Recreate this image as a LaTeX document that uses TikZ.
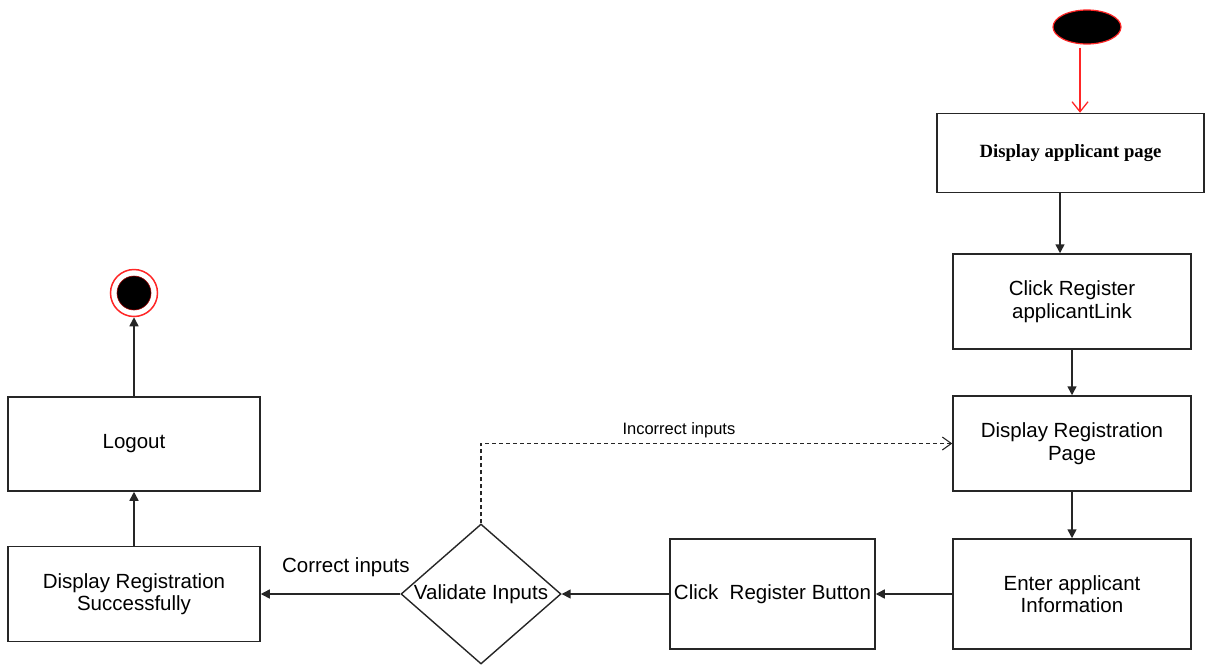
\documentclass[tikz,border=0pt]{standalone}
\usepackage{fontspec}
\setmainfont{Liberation Sans}
\newfontfamily\serifbold{Liberation Serif}
\usetikzlibrary{arrows.meta,shapes.geometric}
\begin{document}
\begin{tikzpicture}[x=1pt,y=-1pt,
  font=\fontsize{20.5}{22.5}\selectfont,
  actbox/.style={draw=black!85, line width=1.5pt, fill=white, align=center, inner sep=0pt},
  flow/.style={draw=black!85, line width=1.5pt, -{Triangle[length=9pt,width=9pt]}},
  redflow/.style={draw=red!85, line width=1.3pt, -{Straight Barb[length=10pt,width=16pt,line width=1.3pt]}},
  altflow/.style={draw=black!85, line width=1.1pt, dash pattern=on 4pt off 3pt, -{Straight Barb[length=9pt,width=13pt,line width=1.1pt]}}]
\useasboundingbox (0,0) rectangle (1205,665);

% initial and final states
\node[ellipse, draw=red!85, fill=black, line width=1.2pt, minimum width=68pt, minimum height=34pt, inner sep=0pt] (start) at (1087,27) {};
\node[circle, draw=red!85, fill=white, line width=1.5pt, minimum size=47pt, inner sep=0pt] (stop) at (134,293) {};
\node[circle, draw=red!60!black, fill=black, line width=0.6pt, minimum size=34pt, inner sep=0pt] (stopdot) at (134,293) {};

% actions
\node[actbox, minimum width=267pt, minimum height=79pt] (page) at (1070.5,153) {\serifbold\fontsize{18.7}{22}\selectfont\bfseries Display applicant page};
\node[actbox, minimum width=238pt, minimum height=95pt] (link) at (1072,301.5) {Click Register\\applicantLink};
\node[actbox, minimum width=238pt, minimum height=95pt] (regpage) at (1072,443.5) {Display Registration\\Page};
\node[actbox, minimum width=238pt, minimum height=110pt] (info) at (1072,594) {Enter applicant\\Information};
\node[actbox, minimum width=205pt, minimum height=110pt] (button) at (772.5,594) {Click\ \ Register Button};
\node[diamond, aspect=1.15, draw=black!85, line width=1.4pt, fill=white, minimum width=160pt, minimum height=140pt, inner sep=0pt, align=center] (check) at (481,594) {Validate Inputs};
\node[actbox, minimum width=252pt, minimum height=95pt] (success) at (134,594) {Display Registration\\Successfully};
\node[actbox, minimum width=252pt, minimum height=94pt] (logout) at (134,444) {Logout};

% transitions
\draw[redflow] ([xshift=-7pt,yshift=-3pt]start.south) -- ([xshift=-7pt]start.south |- page.north);
\draw[flow] ([xshift=-10.5pt]page.south) -- ([xshift=-10.5pt]page.south |- link.north);
\draw[flow] (link.south) -- (regpage.north);
\draw[flow] (regpage.south) -- (info.north);
\draw[flow] (info.west) -- (button.east);
\draw[flow] (button.west) -- (check.east);
\draw[flow] (check.west) -- node[pos=0.39, above=13pt] {Correct inputs} (success.east);
\draw[flow] (success.north) -- (logout.south);
\draw[flow] (logout.north) -- (stop.south);
\draw[altflow] (check.north) |- node[pos=0.71, above=2pt, font=\fontsize{16.5}{19}\selectfont] {Incorrect inputs} (regpage.west);
\end{tikzpicture}
\end{document}
